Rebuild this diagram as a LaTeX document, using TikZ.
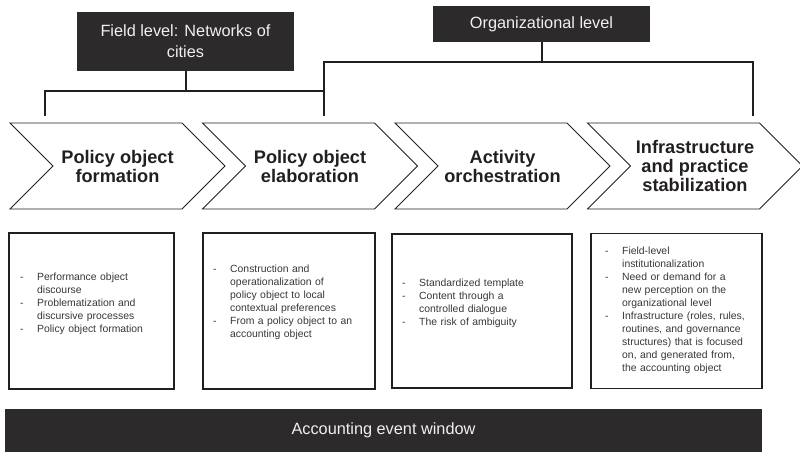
\documentclass[tikz,border=0pt]{standalone}
\usepackage{fontspec}
\setmainfont{Liberation Sans}
\usetikzlibrary{shapes.symbols}
\definecolor{darkbox}{HTML}{2C2A2B}
\definecolor{inkline}{HTML}{231F20}
\tikzset{levelbox/.style={fill=darkbox, text=white!94!black, align=center, inner sep=0pt,
            font=\fontsize{16.3}{21}\selectfont}}
\tikzset{stage/.style={signal, signal to=east, signal from=west, draw=inkline, line width=0.9pt,
            minimum width=215pt, minimum height=86pt, inner sep=0pt, align=center,
            text=inkline, font=\fontsize{18.2}{19}\selectfont\bfseries}}
\tikzset{notebox/.style={draw=inkline, line width=1.3pt, inner sep=0pt}}
\tikzset{notes/.style={anchor=west, align=left, inner sep=0pt, text=inkline!90!white,
            font=\fontsize{10.4}{13}\selectfont}}
\tikzset{bracket/.style={draw=inkline, line width=2pt}}
\newcommand*\dashitem[1]{\hangindent=17pt\hangafter=1\noindent\makebox[17pt][l]{-}#1\par}

\begin{document}
\begin{tikzpicture}[x=1pt, y=-1pt]
        \pgfmathsetmacro{\sy}{166}
        \pgfmathsetmacro{\ny}{311}
        \useasboundingbox (0,0) rectangle (800,452);
        %
        \node[levelbox, minimum width=217pt, minimum height=59pt] (fl) at (185.5,41.5) {Field level: Networks of\\cities};
        \node[levelbox, minimum width=217pt, minimum height=36pt] (ol) at (541.5,24) {Organizational level};
        %
        \node[stage] (s1) at (117.5,\sy) {Policy object\\formation};
        \node[stage] (s2) at (310,\sy) {Policy object\\elaboration};
        \node[stage] (s3) at (502.5,\sy) {Activity\\orchestration};
        \node[stage] (s4) at (695,\sy) {Infrastructure\\and practice\\stabilization};
        %
        \coordinate (fl-l) at (45,116);
        \coordinate (fl-r) at (324,116);
        \coordinate (ol-r) at (753,116);
        \draw[bracket] (fl.south) -- ++(0,20) coordinate (fl-j);
        \draw[bracket] (fl-l) |- (fl-r |- fl-j) -- (fl-r);
        \draw[bracket] (ol.south) -- ++(0,20) coordinate (ol-j);
        \draw[bracket] (fl-r |- fl-j) -- (fl-r |- ol-j) -| (ol-r);
        %
        \node[notebox, minimum width=165pt, minimum height=156pt] (b1) at (91.5,\ny) {};
        \node[notebox, minimum width=172pt, minimum height=156pt] (b2) at (289,\ny) {};
        \node[notebox, minimum width=180pt, minimum height=154pt] (b3) at (482,\ny) {};
        \node[notebox, minimum width=171pt, minimum height=155pt] (b4) at (676.5,\ny) {};
        %
        \node[notes, text width=150pt] (t1) at (20,304) {%
            \dashitem{Performance object\newline discourse}
            \dashitem{Problematization and\newline discursive processes}
            \dashitem{Policy object formation}};
        \node[notes, text width=158pt] (t2) at (213,302) {%
            \dashitem{Construction and\newline operationalization of\newline policy object to local\newline contextual preferences}
            \dashitem{From a policy object to an\newline accounting object}};
        \node[notes, text width=165pt] (t3) at (402,303.5) {%
            \dashitem{Standardized template}
            \dashitem{Content through a\newline controlled dialogue}
            \dashitem{The risk of ambiguity}};
        \node[notes, text width=152pt] (t4) at (605,310) {%
            \dashitem{Field-level\newline institutionalization}
            \dashitem{Need or demand for a\newline new perception on the\newline organizational level}
            \dashitem{Infrastructure (roles, rules,\newline routines, and governance\newline structures) that is focused\newline on, and generated from,\newline the accounting object}};
        %
        \node[levelbox, minimum width=757pt, minimum height=43pt] (aw) at (383.5,430.5) {Accounting event window};
    \end{tikzpicture}
\end{document}
